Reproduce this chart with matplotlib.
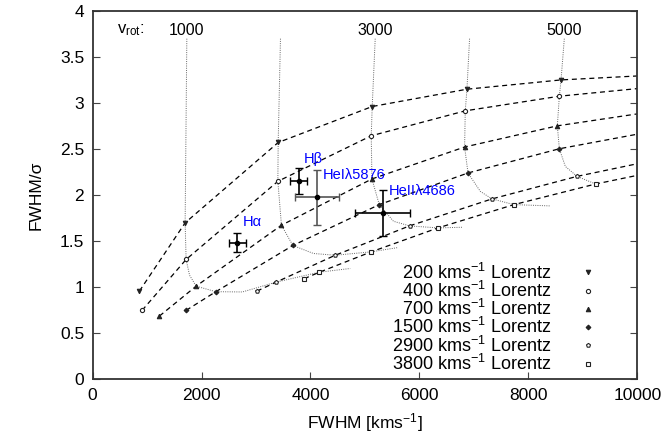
import matplotlib
matplotlib.use("Agg")
import matplotlib.pyplot as plt
from matplotlib.lines import Line2D

plt.rcParams['font.family'] = ['Liberation Sans', 'DejaVu Sans']
plt.rcParams['mathtext.fontset'] = 'custom'
plt.rcParams['mathtext.rm'] = 'Liberation Sans'
plt.rcParams['mathtext.it'] = 'Liberation Sans:italic'

# model grid: one dashed line per Lorentz width, points at vrot = 500,1000,...,5000 (6000 off plot)
lorentz_widths = [200, 400, 700, 1500, 2900, 3800]
grid_fwhm = [
    [859, 1699, 3407, 5133, 6872, 8599, 10330],
    [909, 1717, 3401, 5115, 6841, 8568, 10300],
    [1227, 1901, 3467, 5128, 6829, 8531, 10250],
    [1717, 2263, 3677, 5262, 6891, 8568, 10250],
    [3016, 3370, 4454, 5818, 7331, 8893, 10450],
    [3884, 4165, 5115, 6340, 7735, 9234, 10750],
]
grid_ratio = [
    [0.957, 1.699, 2.572, 2.963, 3.151, 3.252, 3.305],
    [0.748, 1.301, 2.150, 2.645, 2.916, 3.075, 3.175],
    [0.686, 1.011, 1.673, 2.176, 2.523, 2.753, 2.905],
    [0.748, 0.951, 1.453, 1.897, 2.241, 2.504, 2.690],
    [0.957, 1.055, 1.347, 1.666, 1.959, 2.204, 2.397],
    [1.092, 1.163, 1.384, 1.644, 1.897, 2.121, 2.307],
]
markers = ['v', 'o', '^', 'D', 'p', 's']
marker_sizes = [3.2, 3.0, 3.2, 2.4, 3.0, 3.0]
filled = [True, False, True, True, False, False]

# constant-vrot curves (dotted)
vrot_labels = ['1000', '', '3000', '', '5000']
vrot_fwhm = [
    [1730, 1699, 1717, 1780, 1901, 2263, 2750, 3370, 4165, 4729],
    [3449, 3407, 3401, 3467, 3677, 4055, 4454, 5115, 5611],
    [5188, 5133, 5115, 5128, 5262, 5524, 5818, 6340, 6786],
    [6920, 6872, 6841, 6829, 6891, 7117, 7331, 7735, 8402],
    [8659, 8599, 8568, 8531, 8568, 8678, 8893, 9234],
]
vrot_ratio = [
    [3.70, 1.699, 1.301, 1.130, 1.011, 0.951, 0.948, 1.055, 1.163, 1.203],
    [3.70, 2.572, 2.150, 1.673, 1.453, 1.366, 1.347, 1.384, 1.431],
    [3.70, 2.963, 2.645, 2.176, 1.897, 1.716, 1.666, 1.644, 1.651],
    [3.70, 3.151, 2.916, 2.523, 2.241, 2.041, 1.959, 1.897, 1.883],
    [3.70, 3.252, 3.075, 2.753, 2.504, 2.312, 2.204, 2.121],
]

# measured lines
line_names = ['Hα', 'Hβ', 'HeIλ5876', 'HeIIλ4686']
obs_fwhm = [2659, 3780, 4117, 5323]
obs_fwhm_err = [153, 153, 398, 505]
obs_ratio = [1.482, 2.150, 1.976, 1.807]
obs_ratio_err = [0.105, 0.14, 0.298, 0.25]
label_pos = [(2751, 1.713), (3872, 2.396), (4220, 2.222), (5433, 2.05)]

fig = plt.figure(figsize=(6.66, 4.43), dpi=100)
ax = fig.add_axes([0.139, 0.144, 0.818, 0.831])

for fw, rt in zip(vrot_fwhm, vrot_ratio):
    ax.plot(fw, rt, color='#666666', lw=0.7, ls=(0, (1, 1.3)))

handles = []
for i, w in enumerate(lorentz_widths):
    ax.plot(grid_fwhm[i], grid_ratio[i], color='black', lw=0.9, ls=(0, (4, 3)))
    fc = '#222222' if filled[i] else 'white'
    ax.plot(grid_fwhm[i], grid_ratio[i], ls='none', marker=markers[i], ms=marker_sizes[i],
            mfc=fc, mec='#222222', mew=0.8, zorder=4)
    handles.append(Line2D([], [], ls='none', marker=markers[i], ms=marker_sizes[i],
                          mfc=fc, mec='#222222', mew=0.8,
                          label='%d kms$^{-1}$ Lorentz' % w))

bar_colors = ['black', 'black', '#555555', 'black']
for i in range(len(obs_fwhm)):
    ax.errorbar(obs_fwhm[i], obs_ratio[i], xerr=obs_fwhm_err[i], yerr=obs_ratio_err[i],
                fmt='o', ms=3, color='black', ecolor=bar_colors[i], elinewidth=1.2,
                capsize=3, capthick=1.0, zorder=5)
    ax.text(label_pos[i][0], label_pos[i][1], line_names[i], color='blue',
            fontsize=10.5, ha='left', va='center')

ax.text(444, 3.79, 'v$_{\\mathrm{rot}}$:', fontsize=12, ha='left', va='center')
for i, lab in enumerate(vrot_labels):
    if lab:
        ax.text(vrot_fwhm[i][0], 3.79, lab, fontsize=11.5, ha='center', va='center')

ax.legend(handles=handles, loc='lower right', frameon=False, markerfirst=False,
          fontsize=13, handletextpad=1.0, labelspacing=-0.1,
          bbox_to_anchor=(0.9716, -0.03))

ax.set_xlim(0, 10000)
ax.set_ylim(0, 4)
ax.set_xticks([0, 2000, 4000, 6000, 8000, 10000])
ax.set_yticks([0, 0.5, 1, 1.5, 2, 2.5, 3, 3.5, 4])
ax.set_yticklabels(['0', '0.5', '1', '1.5', '2', '2.5', '3', '3.5', '4'])
ax.tick_params(direction='in', length=5, width=0.8, color='#444444',
               labelsize=12.5, right=True, top=False, pad=6)
for s in ax.spines.values():
    s.set_color('#333333')
    s.set_linewidth(1.3)
ax.set_xlabel('FWHM [kms$^{-1}$]', fontsize=12.5, labelpad=6)
ax.set_ylabel('FWHM/σ', fontsize=12.5, labelpad=12)

fig.savefig('out.png', dpi=100)
